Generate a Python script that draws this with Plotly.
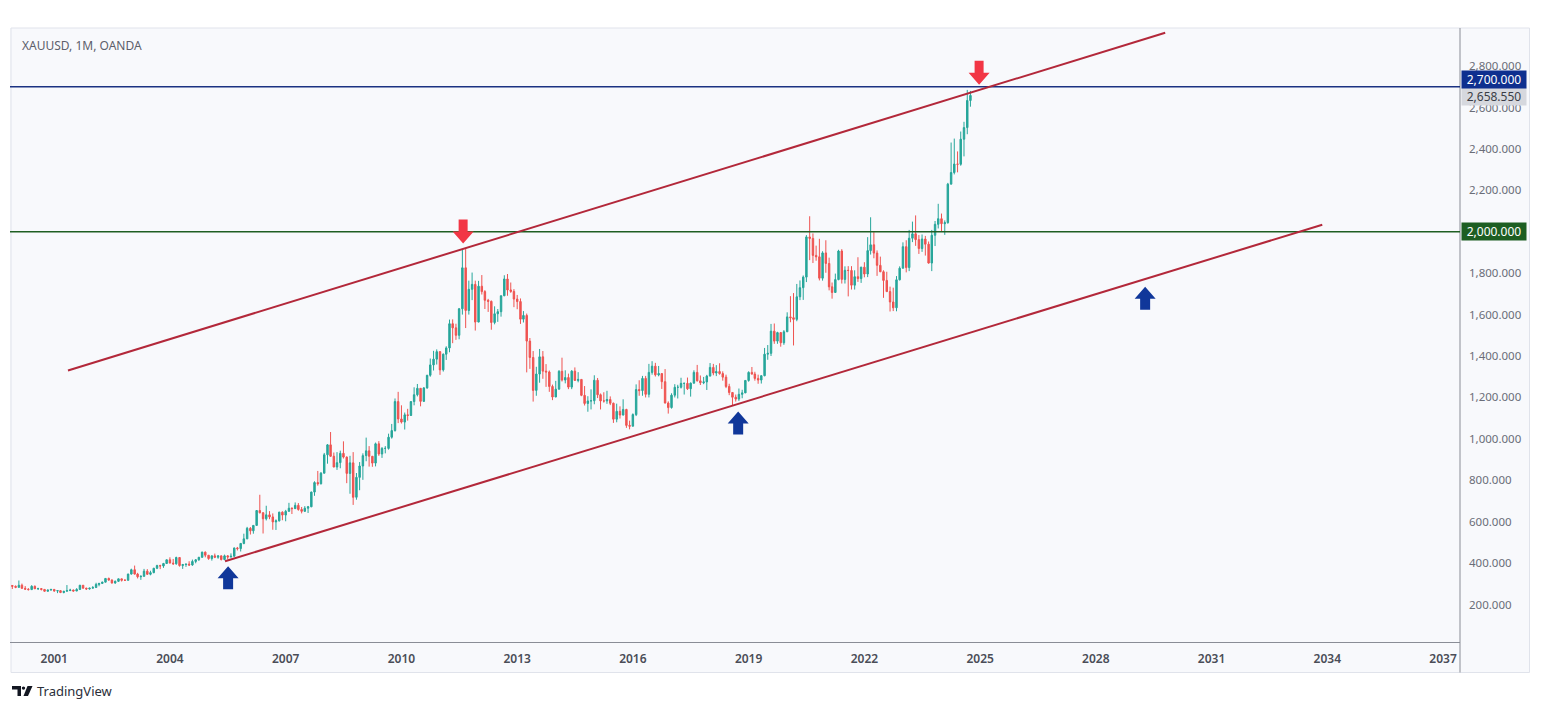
import pandas as pd
import plotly.graph_objects as go

# ---------------- data (monthly XAUUSD) ----------------
start_month = "1999-12-01"

open_ = [
    292,
    288, 283, 293, 278, 274, 272, 288, 276, 277, 273, 264, 270,          # 2000
    273, 265, 267, 258, 264, 267, 270, 265, 273, 293, 279, 275,          # 2001
    279, 282, 297, 302, 308, 326, 318, 304, 312, 324, 317, 317,          # 2002
    347, 368, 347, 334, 336, 361, 346, 354, 375, 388, 386, 398,          # 2003
    416, 400, 397, 427, 388, 393, 395, 391, 408, 416, 428, 453,          # 2004
    438, 422, 435, 428, 435, 417, 435, 429, 433, 473, 470, 495,          # 2005
    517, 568, 556, 582, 654, 643, 614, 633, 623, 599, 604, 646,          # 2006
    632, 650, 665, 663, 679, 659, 650, 665, 672, 743, 789, 783,          # 2007
    834, 923, 971, 916, 864, 885, 930, 912, 833, 884, 718, 814,          # 2008
    869, 919, 942, 916, 883, 976, 927, 954, 954, 1008, 1040, 1180,       # 2009
    1096, 1081, 1116, 1113, 1180, 1213, 1244, 1181, 1246, 1307, 1357, 1385,  # 2010
    1421, 1333, 1409, 1439, 1556, 1536, 1500, 1628, 1826, 1620, 1722, 1746,  # 2011
    1564, 1737, 1711, 1669, 1664, 1562, 1604, 1614, 1691, 1772, 1719, 1712,  # 2012
    1675, 1663, 1578, 1596, 1472, 1393, 1234, 1313, 1396, 1327, 1323, 1253,  # 2013
    1202, 1240, 1326, 1284, 1296, 1250, 1327, 1282, 1287, 1210, 1171, 1183,  # 2014
    1184, 1283, 1213, 1183, 1183, 1190, 1172, 1095, 1133, 1115, 1142, 1065,  # 2015
    1061, 1117, 1238, 1233, 1292, 1215, 1321, 1351, 1309, 1315, 1276, 1173,  # 2016
    1151, 1211, 1249, 1249, 1268, 1268, 1242, 1269, 1321, 1280, 1271, 1275,  # 2017
    1303, 1345, 1318, 1325, 1315, 1298, 1253, 1224, 1201, 1192, 1215, 1222,  # 2018
    1282, 1321, 1313, 1292, 1284, 1305, 1409, 1413, 1520, 1472, 1513, 1464,  # 2019
    1517, 1589, 1585, 1577, 1686, 1730, 1781, 1975, 1968, 1886, 1879, 1776,  # 2020
    1898, 1847, 1734, 1707, 1769, 1907, 1770, 1814, 1813, 1742, 1783, 1774,  # 2021
    1829, 1796, 1909, 1937, 1897, 1838, 1807, 1765, 1711, 1661, 1633, 1768,  # 2022
    1824, 1928, 1827, 1969, 1990, 1962, 1919, 1965, 1940, 1849, 1983, 2036,  # 2023
    2063, 2039, 2044, 2230, 2286, 2327, 2326, 2447, 2503, 2634,              # 2024
]

high = [
    294,
    292, 316, 301, 289, 279, 293, 292, 281, 278, 274, 272, 275,
    273, 268, 268, 266, 294, 276, 272, 279, 295, 293, 281, 281,
    289, 305, 304, 310, 327, 330, 322, 316, 325, 324, 322, 349,
    373, 388, 353, 341, 372, 371, 363, 377, 392, 392, 401, 417,
    428, 420, 431, 428, 396, 397, 409, 417, 419, 430, 455, 456,
    438, 437, 446, 438, 436, 441, 438, 447, 475, 478, 497, 542,
    575, 574, 584, 654, 730, 646, 677, 651, 640, 611, 648, 650,
    657, 691, 669, 693, 690, 671, 675, 676, 745, 795, 845, 840,
    932, 975, 1033, 934, 936, 943, 988, 915, 918, 936, 835, 888,
    930, 1006, 965, 917, 982, 989, 960, 965, 1025, 1072, 1195, 1227,
    1162, 1127, 1145, 1181, 1249, 1265, 1245, 1250, 1309, 1388, 1425, 1432,
    1424, 1412, 1447, 1576, 1577, 1556, 1632, 1913, 1921, 1764, 1803, 1764,
    1763, 1791, 1718, 1676, 1668, 1640, 1627, 1692, 1790, 1796, 1755, 1723,
    1695, 1678, 1617, 1605, 1487, 1424, 1348, 1434, 1424, 1361, 1330, 1262,
    1280, 1332, 1392, 1331, 1315, 1332, 1345, 1322, 1287, 1255, 1206, 1239,
    1307, 1294, 1219, 1225, 1232, 1205, 1175, 1170, 1157, 1191, 1145, 1088,
    1123, 1263, 1283, 1304, 1304, 1362, 1375, 1367, 1352, 1318, 1337, 1181,
    1220, 1264, 1261, 1295, 1271, 1296, 1272, 1331, 1357, 1306, 1299, 1309,
    1366, 1362, 1356, 1365, 1326, 1310, 1266, 1224, 1214, 1243, 1237, 1284,
    1326, 1347, 1324, 1310, 1306, 1439, 1453, 1555, 1557, 1517, 1516, 1525,
    1611, 1689, 1704, 1748, 1765, 1789, 1984, 2075, 1992, 1933, 1966, 1906,
    1959, 1875, 1755, 1798, 1913, 1916, 1833, 1834, 1834, 1814, 1877, 1831,
    1853, 1974, 2070, 1998, 1910, 1880, 1814, 1807, 1735, 1730, 1786, 1833,
    1949, 1959, 2009, 2049, 2079, 1984, 1987, 1980, 1953, 2009, 2052, 2135,
    2088, 2055, 2236, 2431, 2450, 2388, 2484, 2531, 2685, 2680,
]

low = [
    275,
    279, 281, 276, 273, 268, 271, 275, 270, 268, 262, 263, 267,
    262, 255, 255, 254, 264, 266, 263, 265, 271, 277, 271, 272,
    277, 282, 288, 299, 307, 315, 301, 300, 309, 311, 314, 316,
    345, 345, 326, 319, 335, 343, 341, 351, 371, 371, 377, 397,
    399, 391, 392, 383, 372, 382, 386, 387, 399, 411, 426, 428,
    416, 412, 424, 421, 413, 414, 418, 428, 432, 461, 456, 491,
    516, 538, 542, 582, 640, 543, 606, 612, 561, 560, 601, 607,
    602, 649, 637, 662, 653, 640, 648, 642, 670, 725, 774, 780,
    834, 880, 913, 863, 850, 858, 905, 786, 735, 681, 706, 752,
    802, 892, 866, 865, 867, 918, 908, 930, 948, 1001, 1035, 1076,
    1074, 1045, 1088, 1111, 1162, 1205, 1157, 1178, 1242, 1300, 1330, 1359,
    1309, 1325, 1381, 1418, 1462, 1478, 1481, 1600, 1535, 1600, 1670, 1523,
    1563, 1697, 1627, 1613, 1527, 1553, 1565, 1590, 1689, 1691, 1705, 1636,
    1626, 1555, 1562, 1321, 1338, 1180, 1208, 1271, 1290, 1251, 1227, 1187,
    1202, 1238, 1277, 1268, 1240, 1240, 1281, 1273, 1206, 1161, 1131, 1142,
    1167, 1197, 1142, 1175, 1169, 1163, 1077, 1080, 1098, 1113, 1053, 1046,
    1061, 1110, 1208, 1208, 1200, 1200, 1310, 1301, 1302, 1241, 1171, 1122,
    1146, 1200, 1195, 1243, 1214, 1236, 1204, 1267, 1277, 1260, 1264, 1236,
    1302, 1307, 1303, 1310, 1281, 1245, 1211, 1160, 1180, 1183, 1196, 1221,
    1276, 1310, 1281, 1266, 1267, 1302, 1382, 1400, 1459, 1459, 1445, 1454,
    1517, 1563, 1451, 1568, 1670, 1671, 1757, 1863, 1849, 1860, 1765, 1764,
    1802, 1717, 1677, 1705, 1766, 1750, 1750, 1688, 1721, 1721, 1758, 1753,
    1780, 1781, 1890, 1872, 1787, 1805, 1681, 1710, 1615, 1617, 1616, 1765,
    1823, 1804, 1810, 1950, 1932, 1893, 1903, 1885, 1846, 1810, 1931, 2016,
    2002, 1985, 2039, 2229, 2277, 2287, 2319, 2364, 2471, 2604,
]

close = [
    288,
    283, 293, 278, 274, 272, 288, 276, 277, 273, 264, 270, 273,
    265, 267, 258, 264, 267, 270, 265, 273, 293, 279, 275, 279,
    282, 297, 302, 308, 326, 318, 304, 312, 324, 317, 317, 347,
    368, 347, 334, 336, 361, 346, 354, 375, 388, 386, 398, 416,
    400, 397, 427, 388, 393, 395, 391, 408, 416, 428, 453, 438,
    422, 435, 428, 435, 417, 435, 429, 433, 473, 470, 495, 517,
    568, 556, 582, 654, 643, 614, 633, 623, 599, 604, 646, 632,
    650, 665, 663, 679, 659, 650, 665, 672, 743, 789, 783, 834,
    923, 971, 916, 864, 885, 930, 912, 833, 884, 718, 814, 869,
    919, 942, 916, 883, 976, 927, 954, 954, 1008, 1040, 1180, 1096,
    1081, 1116, 1113, 1180, 1213, 1244, 1181, 1246, 1307, 1357, 1385, 1421,
    1333, 1409, 1439, 1556, 1536, 1500, 1628, 1826, 1620, 1722, 1746, 1564,
    1737, 1711, 1669, 1664, 1562, 1604, 1614, 1691, 1772, 1719, 1712, 1675,
    1663, 1578, 1596, 1472, 1393, 1234, 1313, 1396, 1327, 1323, 1253, 1202,
    1240, 1326, 1284, 1296, 1250, 1327, 1282, 1287, 1210, 1171, 1183, 1184,
    1283, 1213, 1183, 1183, 1190, 1172, 1095, 1133, 1115, 1142, 1065, 1061,
    1117, 1238, 1233, 1292, 1215, 1321, 1351, 1309, 1315, 1276, 1173, 1151,
    1211, 1249, 1249, 1268, 1268, 1242, 1269, 1321, 1280, 1271, 1275, 1303,
    1345, 1318, 1325, 1315, 1298, 1253, 1224, 1201, 1192, 1215, 1222, 1282,
    1321, 1313, 1292, 1284, 1305, 1409, 1413, 1520, 1472, 1513, 1464, 1517,
    1589, 1585, 1577, 1686, 1730, 1781, 1975, 1968, 1886, 1879, 1776, 1898,
    1847, 1734, 1707, 1769, 1907, 1770, 1814, 1813, 1742, 1783, 1774, 1829,
    1796, 1909, 1937, 1897, 1838, 1807, 1765, 1711, 1661, 1633, 1768, 1824,
    1928, 1827, 1969, 1990, 1962, 1919, 1965, 1940, 1849, 1983, 2036, 2063,
    2039, 2044, 2230, 2286, 2327, 2326, 2447, 2503, 2634, 2658.55,
]

y_tick_values = [200, 400, 600, 800, 1000, 1200, 1400, 1600, 1800, 2000,
                 2200, 2400, 2600, 2800]
x_tick_years = [2001, 2004, 2007, 2010, 2013, 2016, 2019, 2022, 2025,
                2028, 2031, 2034, 2037]

resistance_level = 2700
support_level = 2000
last_price = 2658.55

upper_channel = [("2001-05-11", 1330), ("2029-10-19", 2961)]
lower_channel = [("2005-06-06", 409), ("2033-11-14", 2034)]

down_arrows = [("2011-08-08", 1943), ("2024-12-22", 2710)]
up_arrows = [("2005-07-05", 385), ("2018-09-24", 1132), ("2029-04-12", 1735)]

title_text = "XAUUSD, 1M, OANDA"

# ---------------- styling ----------------
GREEN = "#26a69a"
RED = "#ef5350"
PANEL_BG = "#f8f9fc"
BORDER = "#e0e3eb"
AXIS_LINE = "#8a8d96"
CHANNEL = "#b3283a"
BLUE_LINE = "#1b3282"
GREEN_LINE = "#1f5f22"
ARROW_RED = "#f23645"
ARROW_BLUE = "#10379a"
FONT = "Noto Sans"

OFF = 8  # body margin of the html page
FIG_W, FIG_H = 1541 - 2 * OFF, 710 - 2 * OFF
PL, PR, PT, PB = 10, 1460, 28, 642  # plot area in page pixels


def px(x):
    return (x - PL) / (PR - PL)


def py(y):
    return (PB - y) / (PB - PT)


dates = pd.date_range(start_month, periods=len(close), freq="MS")

fig = go.Figure()
fig.add_trace(go.Candlestick(
    x=dates, open=open_, high=high, low=low, close=close,
    increasing=dict(line=dict(color=GREEN, width=1), fillcolor=GREEN),
    decreasing=dict(line=dict(color=RED, width=1), fillcolor=RED),
    hoverinfo="skip", showlegend=False,
))

shapes = []
# panel background and border (covers axis areas too)
shapes.append(dict(type="rect", xref="paper", yref="paper",
                   x0=px(11), x1=px(1529.5), y0=py(672.5), y1=py(28),
                   fillcolor=PANEL_BG, line=dict(color=BORDER, width=1),
                   layer="below"))
# price axis separator
shapes.append(dict(type="line", xref="paper", yref="paper",
                   x0=1, x1=1, y0=py(672.5), y1=py(28),
                   line=dict(color=AXIS_LINE, width=1)))
# horizontal levels
shapes.append(dict(type="line", xref="paper", yref="y", x0=0, x1=1,
                   y0=resistance_level, y1=resistance_level,
                   line=dict(color=BLUE_LINE, width=1.6)))
shapes.append(dict(type="line", xref="paper", yref="y", x0=0, x1=1,
                   y0=support_level, y1=support_level,
                   line=dict(color=GREEN_LINE, width=1.6)))
# channel lines
for (xa, ya), (xb, yb) in (upper_channel, lower_channel):
    shapes.append(dict(type="line", xref="x", yref="y",
                       x0=xa, y0=ya, x1=xb, y1=yb,
                       line=dict(color=CHANNEL, width=2)))

# block arrows (pixel sized, anchored to data points at the tip)
down_path = "M 0 0 L 10.5 12 L 4.5 12 L 4.5 24 L -4.5 24 L -4.5 12 L -10.5 12 Z"
up_path = "M 0 0 L 10.5 -12 L 5 -12 L 5 -23 L -5 -23 L -5 -12 L -10.5 -12 Z"
for xd, yd in down_arrows:
    shapes.append(dict(type="path", xref="x", yref="y",
                       xsizemode="pixel", ysizemode="pixel",
                       xanchor=xd, yanchor=yd, path=down_path,
                       fillcolor=ARROW_RED, line=dict(width=0)))
for xd, yd in up_arrows:
    shapes.append(dict(type="path", xref="x", yref="y",
                       xsizemode="pixel", ysizemode="pixel",
                       xanchor=xd, yanchor=yd, path=up_path,
                       fillcolor=ARROW_BLUE, line=dict(width=0)))

# TradingView logo
shapes.append(dict(type="path", xref="paper", yref="paper",
                   path=(f"M {px(12)} {py(686)} L {px(21)} {py(686)} L {px(21)} {py(696)} "
                         f"L {px(17.5)} {py(696)} L {px(17.5)} {py(689.5)} L {px(12)} {py(689.5)} Z"),
                   fillcolor="#131722", line=dict(width=0)))
shapes.append(dict(type="circle", xref="paper", yref="paper",
                   x0=px(21.8), x1=px(25.2), y0=py(689.8), y1=py(686.4),
                   fillcolor="#131722", line=dict(width=0)))
shapes.append(dict(type="path", xref="paper", yref="paper",
                   path=(f"M {px(27.5)} {py(686)} L {px(32.5)} {py(686)} L {px(28)} {py(696)} "
                         f"L {px(23.5)} {py(696)} Z"),
                   fillcolor="#131722", line=dict(width=0)))

annotations = [
    dict(text=title_text, xref="paper", yref="paper", x=px(20), y=py(45),
         xanchor="left", yanchor="middle", showarrow=False,
         font=dict(family=FONT, size=12, color="#5d606b")),
    dict(text="TradingView", xref="paper", yref="paper", x=px(35), y=py(691),
         xanchor="left", yanchor="middle", showarrow=False,
         font=dict(family=FONT, size=13, color="#2a2e39")),
    dict(text="2,658.550", xref="paper", yref="y", x=px(1461), y=last_price,
         xanchor="left", yanchor="middle", showarrow=False, width=64,
         bgcolor="#d6d8de", borderpad=0, yshift=-1,
         font=dict(family=FONT, size=12, color="#3a3d46")),
    dict(text="2,700.000", xref="paper", yref="y", x=px(1461), y=resistance_level,
         xanchor="left", yanchor="middle", showarrow=False, width=64,
         bgcolor="#0e2f8f", borderpad=0, yshift=7,
         font=dict(family=FONT, size=12, color="#ffffff")),
    dict(text="2,000.000", xref="paper", yref="y", x=px(1461), y=support_level,
         xanchor="left", yanchor="middle", showarrow=False, width=64,
         bgcolor="#1d5e22", borderpad=0,
         font=dict(family=FONT, size=12, color="#ffffff")),
]

fig.update_layout(
    width=FIG_W, height=FIG_H,
    margin=dict(l=PL - OFF, r=FIG_W - (PR - OFF), t=PT - OFF, b=FIG_H - (PB - OFF)),
    paper_bgcolor="#ffffff", plot_bgcolor=PANEL_BG,
    shapes=shapes, annotations=annotations, showlegend=False,
    xaxis=dict(
        range=["1999-11-09", "2037-06-10"],
        rangeslider=dict(visible=False),
        tickvals=[f"{y}-01-01" for y in x_tick_years],
        ticktext=[str(y) for y in x_tick_years],
        showgrid=False, zeroline=False,
        showline=True, linecolor=AXIS_LINE, linewidth=1,
        ticks="", ticklabelstandoff=6,
        tickfont=dict(family=FONT, size=12, color="#4a4d57", weight=600),
    ),
    yaxis=dict(
        range=[19, 2984], side="right",
        tickvals=y_tick_values, tickformat=",.3f",
        showgrid=False, zeroline=False, showline=False,
        ticks="", ticklabelstandoff=8,
        tickfont=dict(family=FONT, size=11.5, color="#6a6d78"),
    ),
)

fig.write_html("out.html")
